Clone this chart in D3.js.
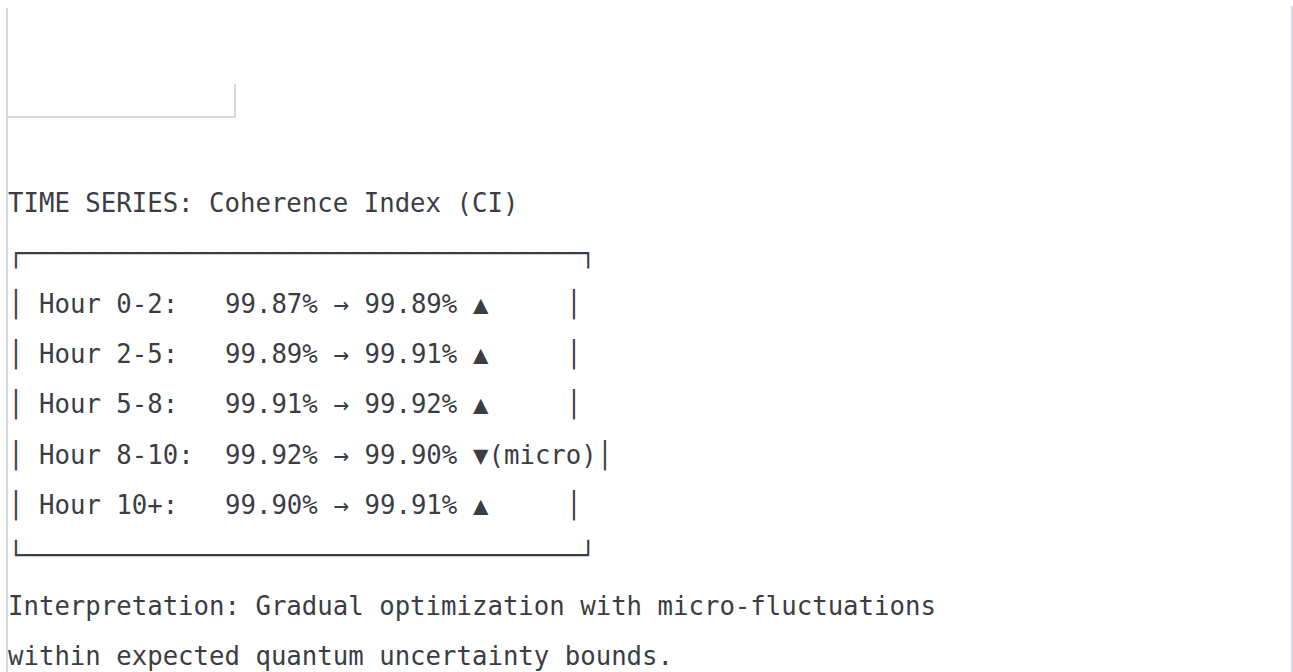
<!DOCTYPE html>
<html>
<head>
<meta charset="utf-8">
<script src="https://cdn.jsdelivr.net/npm/d3@7/dist/d3.min.js"></script>
<style>
  html, body { margin: 0; padding: 0; background: #ffffff; }
  #chart { width: 1293px; height: 672px; }
  .mono { font-family: "DejaVu Sans Mono", "Liberation Mono", monospace; font-size: 25.7px; fill: #3a3d44; white-space: pre; }
  .frame { stroke: #d6d8e2; stroke-width: 2; fill: none; }
</style>
</head>
<body>
<div id="chart"></div>
<script>
// chart values
var titleText   = 'TIME SERIES: Coherence Index (CI)';
var hourLabels  = ['Hour 0-2:', 'Hour 2-5:', 'Hour 5-8:', 'Hour 8-10:', 'Hour 10+:'];
var ciStart     = [99.87, 99.89, 99.91, 99.92, 99.90];
var ciEnd       = [99.89, 99.91, 99.92, 99.90, 99.91];
var trendNotes  = ['', '', '', '(micro)', ''];
var noteLines   = ['Interpretation: Gradual optimization with micro-fluctuations',
                   'within expected quantum uncertainty bounds.'];

var TextSeries = function(_id) {

  var that = this;

  that.id = _id;
  that.width = 1293;
  that.height = 672;

  // column layout inside the text box
  that.cols = {border: 0, label: 2, start: 14, arrow: 21, end: 23, trend: 30, note: 31, close: 36, inner: 36};

  that.init = function() {

    that.svg = d3.select('#' + that.id).append('svg')
      .attr('width', that.width)
      .attr('height', that.height);

    // one character cell per column
    that.x = d3.scaleLinear().domain([0, 60]).range([8, 8 + 60 * 15.5]);
    // one text line per row (title .. last note)
    that.y = d3.scaleLinear().domain([0, 9]).range([212, 665]);

    that.rows = hourLabels.map(function(d, i) {
      return {label: d, start: ciStart[i], end: ciEnd[i], note: trendNotes[i]};
    });

    drawFrame();
    drawTitle();
    drawBox();
    drawRows();
    drawNotes();

    return that;
  };

  var drawFrame = function() {
    that.svg.append('line').attr('class', 'frame')
      .attr('x1', 7).attr('y1', 8).attr('x2', 7).attr('y2', that.height);
    that.svg.append('line').attr('class', 'frame')
      .attr('x1', 1292).attr('y1', 6).attr('x2', 1292).attr('y2', that.height);
    // small empty panel at top
    that.svg.append('path').attr('class', 'frame')
      .attr('d', 'M7,84 V117 H235 V84');
  };

  var addText = function(col, line, str) {
    return that.svg.append('text')
      .attr('class', 'mono')
      .attr('x', that.x(col))
      .attr('y', that.y(line))
      .attr('xml:space', 'preserve')
      .text(str);
  };

  var drawTitle = function() {
    addText(0, 0, titleText);
  };

  var drawBox = function() {
    var bar = d3.range(that.cols.inner).map(function() { return '\u2500'; }).join('');
    addText(0, 1, '\u250c' + bar + '\u2510');
    addText(0, 2 + that.rows.length, '\u2514' + bar + '\u2518');
  };

  var drawRows = function() {
    var c = that.cols;
    var fmt = d3.format('.2f');

    that.rows.forEach(function(d, i) {
      var line = 2 + i;
      var up = d.end >= d.start;
      addText(c.border, line, '\u2502');
      addText(c.label, line, d.label);
      addText(c.start, line, fmt(d.start) + '%');
      addText(c.arrow, line, '\u2192');
      addText(c.end, line, fmt(d.end) + '%');
      addText(c.trend, line, up ? '\u25b2' : '\u25bc');
      if (d.note) addText(c.note, line, d.note);
      addText(Math.max(c.close, c.note + d.note.length), line, '\u2502');
    });
  };

  var drawNotes = function() {
    noteLines.forEach(function(d, i) {
      addText(0, 8 + i, d);
    });
  };

  return that;
};

new TextSeries('chart').init();
</script>
</body>
</html>
